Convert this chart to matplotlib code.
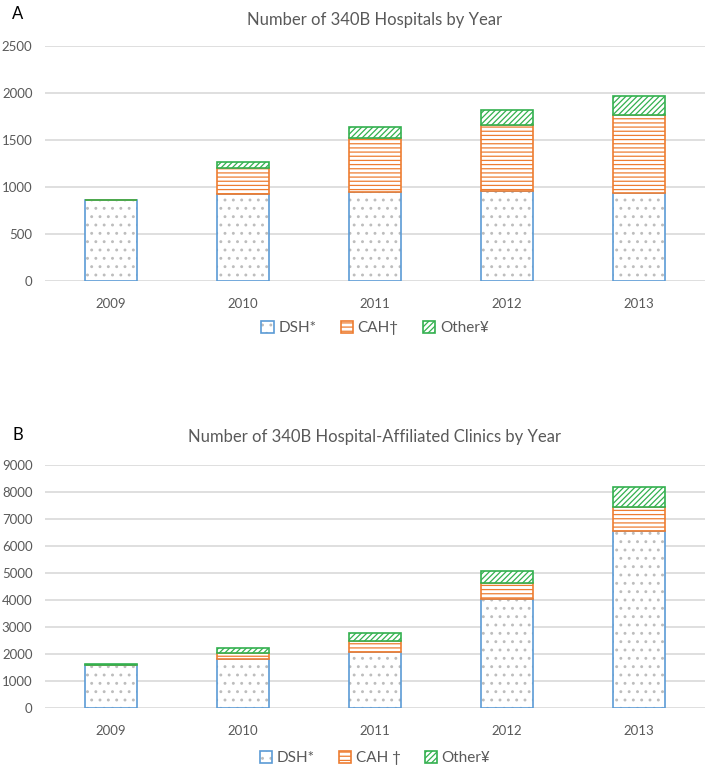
import numpy as np
import matplotlib.pyplot as plt
from matplotlib.patches import Patch

years = ["2009", "2010", "2011", "2012", "2013"]

# panel A - hospitals
hosp_dsh = [862, 922, 947, 954, 940]
hosp_cah = [0, 277, 578, 706, 828]
hosp_other = [0, 67, 115, 160, 200]

# panel B - hospital-affiliated clinics
clin_dsh = [1590, 1815, 2062, 4049, 6531]
clin_cah = [0, 210, 407, 593, 889]
clin_other = [20, 185, 321, 432, 765]

BLUE = "#5B9BD5"
ORANGE = "#ED7D31"
GREEN = "#33B04F"
DOTS = "#BDBDBD"
TXT = "#595959"
GRID = "#D9D9D9"

plt.rcParams["font.family"] = ["Lato", "DejaVu Sans"]
plt.rcParams["hatch.linewidth"] = 0.9

fig = plt.figure(figsize=(7.09, 7.72), dpi=100)


def panel(ax, dsh, cah, other, ymax, step):
    x = np.arange(len(years))
    w = 0.4
    dsh = np.array(dsh)
    cah = np.array(cah)
    other = np.array(other)
    ax.bar(x, dsh, w, color="white", edgecolor=DOTS, hatch="..", lw=0, zorder=2)
    ax.bar(x, dsh, w, fill=False, edgecolor=BLUE, lw=1.2, zorder=3)
    ax.bar(x, cah, w, bottom=dsh, color="white", edgecolor=ORANGE, hatch="----", lw=1.2, zorder=3)
    ax.bar(x, other, w, bottom=dsh + cah, color="white", edgecolor=GREEN, hatch="//////", lw=1.2, zorder=3)
    ax.set_xlim(-0.5, len(years) - 0.5)
    ax.set_ylim(0, ymax)
    ax.set_yticks(np.arange(0, ymax + 1, step))
    ax.set_xticks(x)
    ax.set_xticklabels(years)
    ax.yaxis.grid(True, color=GRID, lw=1.2)
    ax.set_axisbelow(True)
    for s in ax.spines.values():
        s.set_visible(False)
    ax.tick_params(length=0, colors=TXT, labelsize=9.5)
    ax.tick_params(axis="x", pad=12)
    ax.tick_params(axis="y", pad=9)


def handles():
    h1 = (Patch(facecolor="white", edgecolor=DOTS, hatch="..", lw=0),
          Patch(fill=False, edgecolor=BLUE, lw=1.2))
    h2 = Patch(facecolor="white", edgecolor=ORANGE, hatch="----", lw=1.2)
    h3 = Patch(facecolor="white", edgecolor=GREEN, hatch="//////", lw=1.2)
    return [h1, h2, h3]


axA = fig.add_axes([45 / 709, 491 / 772, 660 / 709, 235 / 772])
panel(axA, hosp_dsh, hosp_cah, hosp_other, 2500, 500)
axB = fig.add_axes([45 / 709, 64 / 772, 660 / 709, 243.3 / 772])
panel(axB, clin_dsh, clin_cah, clin_other, 9000, 1000)

fig.text(375 / 709, 1 - 20 / 772, "Number of 340B Hospitals by Year",
         ha="center", va="center", fontsize=12, color=TXT)
fig.text(375 / 709, 1 - 437 / 772, "Number of 340B Hospital-Affiliated Clinics by Year",
         ha="center", va="center", fontsize=12, color=TXT)
fig.text(12 / 709, 1 - 14 / 772, "A", ha="left", va="center", fontsize=12, color="black")
fig.text(12 / 709, 1 - 435 / 772, "B", ha="left", va="center", fontsize=12, color="black")

for labels, yy in [(["DSH*", "CAH\u2020", "Other\u00a5"], 328),
                   (["DSH*", "CAH \u2020", "Other\u00a5"], 758)]:
    leg = fig.legend(handles(), labels, loc="center", bbox_to_anchor=(375 / 709, 1 - yy / 772),
                     ncol=3, frameon=False, fontsize=11, handlelength=0.8, handleheight=0.8,
                     handletextpad=0.3, columnspacing=1.6)
    for t in leg.get_texts():
        t.set_color(TXT)

fig.savefig("out.png", dpi=100)
